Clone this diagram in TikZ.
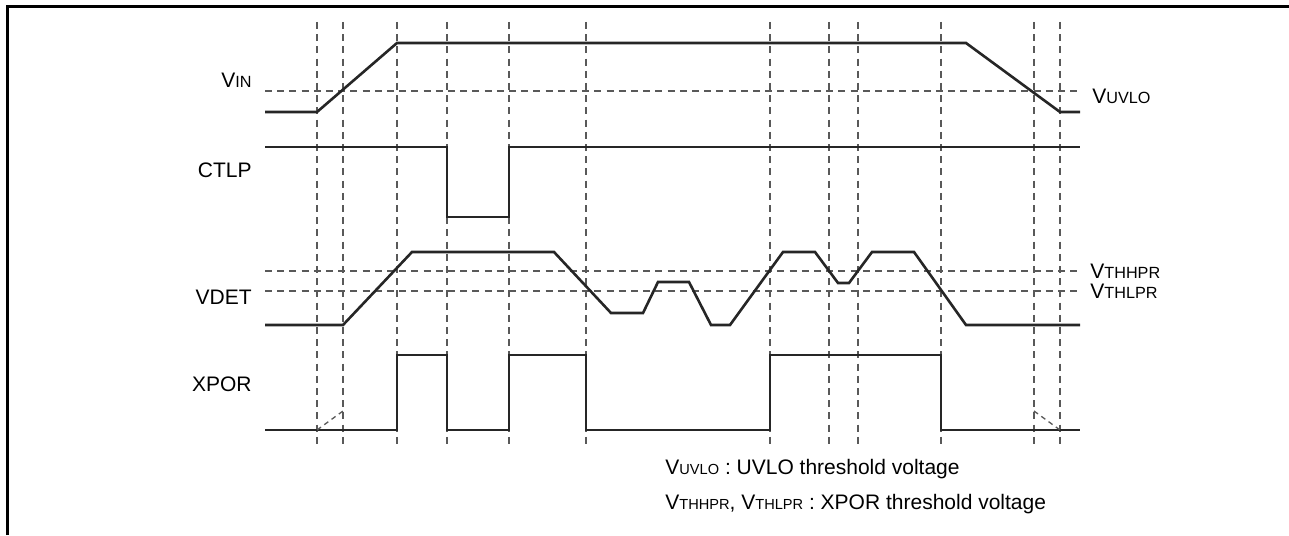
\documentclass[tikz,border=0pt]{standalone}
\usepackage{fontspec}
\setmainfont{Liberation Sans}
\usetikzlibrary{arrows}
\newcommand{\vsub}[1]{V{\fontsize{8.1}{9}\selectfont #1}}
\newcommand{\vsubl}[1]{V{\fontsize{7.3}{9}\selectfont #1}}

\begin{document}
\begin{tikzpicture}[x=0.5pt,y=-0.5pt,
                    sig/.style={line width=1.3pt,black!85,line join=miter},
                    grid line/.style={gray!70!black,line width=0.65pt,dash pattern=on 3.5pt off 2.6pt},
                    lbl/.style={font=\fontsize{10.5}{12}\selectfont,inner sep=0pt}]
  \useasboundingbox (0,0) rectangle (1289,535);
  \draw[line width=1.5pt] (7,535) -- (7,7) -- (1289,7);
  % time markers
  \foreach \x in {317,343,397,447,509,586,770,829,858,941,1034,1060}
    \draw[grid line] (\x,22) -- (\x,445);
  % thresholds
  \foreach \y in {91,271,291}
    \draw[grid line] (265,\y) -- (1080,\y);
  % signals
  \draw[sig] (265,112) -- (317,112) -- (397,43) -- (966,43) -- (1060,112) -- (1080,112);
  \draw[sig] (265,147) -- (447,147) -- (447,217) -- (509,217) -- (509,147) -- (1080,147);
  \draw[sig] (265,325) -- (343,325) -- (412,252) -- (554,252) -- (611,313) -- (643,313)
    -- (658,282) -- (689,282) -- (711,325) -- (730,325) -- (783,252) -- (815,252)
    -- (838,283) -- (849,283) -- (872,252) -- (914,252) -- (966,325) -- (1080,325);
  \draw[sig] (265,430) -- (397,430) -- (397,355) -- (447,355) -- (447,430) -- (509,430)
    -- (509,355) -- (586,355) -- (586,430) -- (770,430) -- (770,355) -- (941,355)
    -- (941,430) -- (1080,430);
  \draw[grid line,dash pattern=on 2.5pt off 2pt] (317,430) -- (343,411);
  \draw[grid line,dash pattern=on 2.5pt off 2pt] (1034,411) -- (1060,430);
  % names
  \node[lbl,anchor=east] (vin) at (252,80) {\vsub{IN}};
  \node[lbl,anchor=east] (ctlp) at (252,170) {CTLP};
  \node[lbl,anchor=east] (vdet) at (252,297) {VDET};
  \node[lbl,anchor=east] (xpor) at (252,384) {XPOR};
  \node[lbl,anchor=west] (uvlo) at (1092,96) {\vsub{UVLO}};
  \node[lbl,anchor=west] (thh) at (1090,271) {\vsub{THHPR}};
  \node[lbl,anchor=west] (thl) at (1090,291) {\vsub{THLPR}};
  % legend
  \node[lbl,anchor=west] (leg1) at (665,469) {\vsubl{UVLO} : UVLO threshold voltage};
  \node[lbl,anchor=west] (leg2) at (665,504) {\vsubl{THHPR}, \vsubl{THLPR} : XPOR threshold voltage};
\end{tikzpicture}
\end{document}
